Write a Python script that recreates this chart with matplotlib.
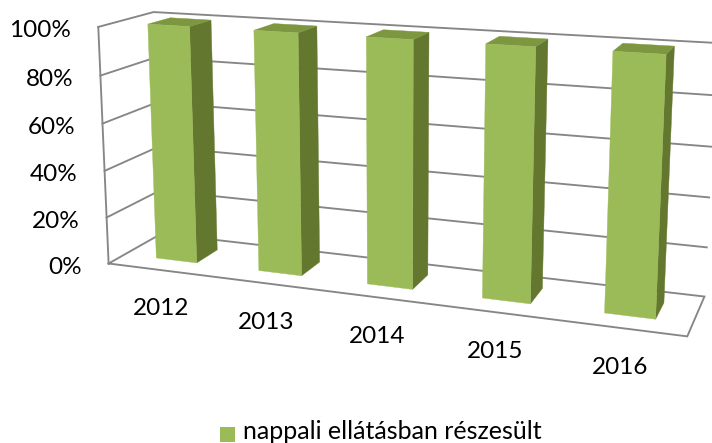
import numpy as np
import matplotlib
matplotlib.use("Agg")
import matplotlib.pyplot as plt
from matplotlib.patches import Polygon, Rectangle

categories = ["2012", "2013", "2014", "2015", "2016"]
values = [100, 100, 100, 100, 100]
axis_ticks = [0, 20, 40, 60, 80, 100]
tick_labels = ["0%", "20%", "40%", "60%", "80%", "100%"]
series_name = "nappali ellátásban részesült"

FRONT, SIDE, TOP = "#9BBB59", "#64772F", "#7C9740"
GRID = "#868686"
plt.rcParams["font.family"] = ["Lato", "DejaVu Sans"]

# camera: cube corners (category, depth, value) -> image pixels
cube = np.array([[0,0,0],[1,0,0],[1,1,0],[0,1,0],[0,1,1],[0,0,1],[1,1,1]], float)
img = np.array([[112,262],[687,338],[705,295],[158,235],[157,12],[95,27],[716,43]], float)
rows = []
for (X,Y,Z),(u,v) in zip(cube, img):
    rows.append([X,Y,Z,1,0,0,0,0,-u*X,-u*Y,-u*Z,-u])
    rows.append([0,0,0,0,X,Y,Z,1,-v*X,-v*Y,-v*Z,-v])
P = np.linalg.svd(np.array(rows))[2][-1].reshape(3,4)

def proj(x, y, z):
    p = P @ np.array([x, y, z, 1.0])
    return p[0]/p[2], p[1]/p[2]

fig = plt.figure(figsize=(7.12, 4.43), dpi=100)
ax = fig.add_axes([0, 0, 1, 1])
ax.set_xlim(0, 712); ax.set_ylim(443, 0); ax.axis("off")

def wire(pts):
    xy = np.array([proj(*p) for p in pts])
    ax.plot(xy[:,0], xy[:,1], color=GRID, lw=1.35, solid_joinstyle="miter", zorder=1)

wire([(0,0,0),(1,0,0),(1,1,0),(0,1,0),(0,0,0)])
wire([(0,0,0),(0,0,1)])
for t in axis_ticks[1:]:
    z = t/100
    wire([(0,0,z),(0,1,z),(1,1,z)])

bar_w = 0.4/5
d0, d1 = 0.30, 0.72
for i, v in enumerate(values):
    x0 = (i+0.5)/5 - bar_w/2 + 0.003
    x1 = x0 + bar_w
    z = v/100
    faces = [
        ([(x1,d0,0),(x1,d1,0),(x1,d1,z),(x1,d0,z)], SIDE),
        ([(x0,d0,z),(x1,d0,z),(x1,d1,z),(x0,d1,z)], TOP),
        ([(x0,d0,0),(x1,d0,0),(x1,d0,z),(x0,d0,z)], FRONT),
    ]
    for pts, c in faces:
        ax.add_patch(Polygon([proj(*p) for p in pts], closed=True, fc=c, ec=c, lw=0.3, zorder=3))

FS = 17.5
for t, lab in zip(axis_ticks, tick_labels):
    xw, yw = proj(0, 0, t/100)
    ax.text(xw-27, yw+4, lab, ha="right", va="center", fontsize=FS, color="black")
for i, c in enumerate(categories):
    x, y = proj((i+0.5)/5, 0, 0)
    ax.text(x+2-0.75*i, y+39, c, ha="center", va="center", fontsize=FS, color="black")

ax.add_patch(Rectangle((220, 427), 15, 15, fc=FRONT, ec="none"))
ax.text(243, 431.5, series_name, ha="left", va="center", fontsize=18, color="black")

fig.savefig("out.png", dpi=100)
